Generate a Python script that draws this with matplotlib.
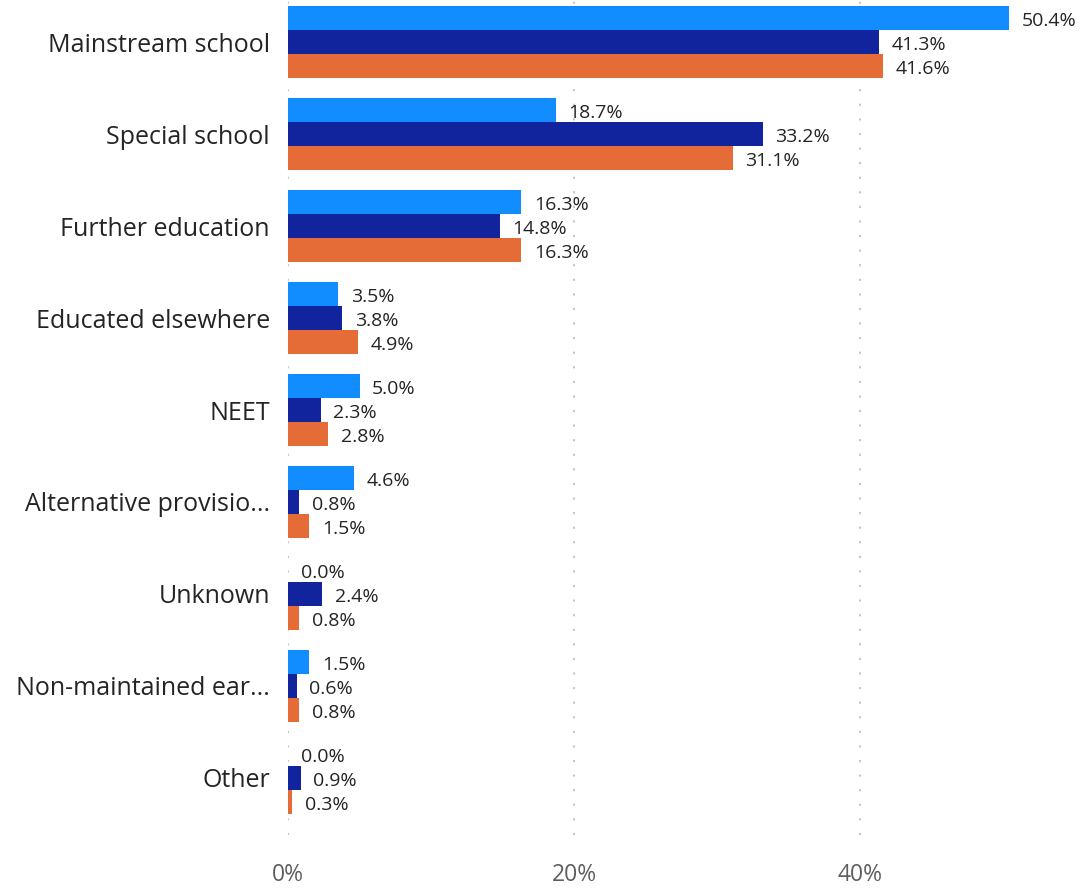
import numpy as np
import matplotlib.pyplot as plt

categories = ["Mainstream school", "Special school", "Further education",
              "Educated elsewhere", "NEET", "Alternative provisio...",
              "Unknown", "Non-maintained ear...", "Other"]
series_a = [50.4, 18.7, 16.3, 3.5, 5.0, 4.6, 0.0, 1.5, 0.0]
series_b = [41.3, 33.2, 14.8, 3.8, 2.3, 0.8, 2.4, 0.6, 0.9]
series_c = [41.6, 31.1, 16.3, 4.9, 2.8, 1.5, 0.8, 0.8, 0.3]
colors = ["#118DFF", "#12239E", "#E66C37"]

plt.rcParams['font.family'] = ['Open Sans', 'DejaVu Sans']

fig = plt.figure(figsize=(10.85, 8.92), dpi=100)
ax = fig.add_axes([288 / 1085, 57 / 892, 1 - 288 / 1085, 1 - 57 / 892])

y = np.arange(len(categories))
h = 0.26
for i, (vals, c) in enumerate(zip([series_a, series_b, series_c], colors)):
    pos = y + (i - 1) * h
    ax.barh(pos, vals, height=h, color=c, zorder=2)
    for p, v in zip(pos, vals):
        ax.annotate(f"{v:.1f}%", (v, p), xytext=(9, -2), textcoords="offset points",
                    va="center", ha="left", fontsize=14, color="#252423",
                    annotation_clip=False)

ax.set_xlim(0, 55.7)
ax.set_ylim(8.62, -0.457)
ax.set_yticks(y)
ax.set_yticklabels(categories, fontsize=18, color="#252423")
ax.set_xticks([0, 20, 40])
ax.set_xticklabels(["0%", "20%", "40%"], fontsize=16.5, color="#605E5C")
ax.tick_params(length=0)
ax.tick_params(axis="y", pad=13)
ax.tick_params(axis="x", pad=20)
ax.grid(axis="x", color="#C8C6C4", linestyle=(0, (1, 6)), linewidth=1.5, zorder=0)
for s in ax.spines.values():
    s.set_visible(False)

fig.savefig("out.png", dpi=100)
